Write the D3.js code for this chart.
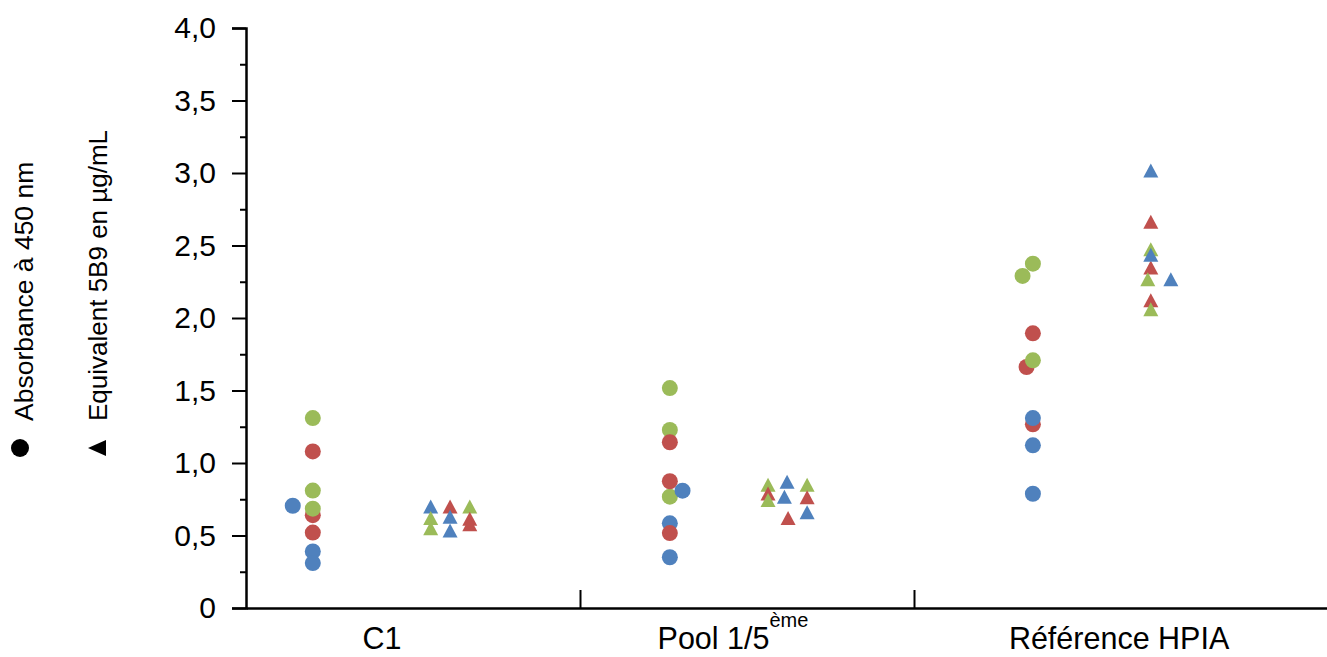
<!DOCTYPE html>
<html>
<head>
<meta charset="utf-8">
<script src="https://cdn.jsdelivr.net/npm/d3@7"></script>
<style>
  html, body { margin: 0; padding: 0; background: #ffffff; }
  svg { display: block; font-family: "Liberation Sans", Arial, sans-serif; }
</style>
</head>
<body>
<svg id="chart" width="1327" height="657"></svg>
<script>
// ---------------- DATA ----------------
const categories = ["C1", "Pool 1/5", "Référence HPIA"];
const categorySup = ["", "ème", ""];
const yTickValues = [0, 0.5, 1, 1.5, 2, 2.5, 3, 3.5, 4];
const yTickLabels = ["0", "0,5", "1,0", "1,5", "2,0", "2,5", "3,0", "3,5", "4,0"];
const legendLabels = ["Absorbance à 450 nm", "Equivalent 5B9 en µg/mL"];
const seriesColors = { blue: "#4F81BD", red: "#C0504D", green: "#9BBB59" };

// Absorbance à 450 nm (circles), in drawing order
const absSeries = ["blue","blue","blue","red","red","red","green","green","green",
                   "green","green","green","blue","blue","red","red","red","blue",
                   "red","red","red","green","green","green","blue","blue","blue"];
const absX = [0.14, 0.20, 0.20, 0.20, 0.20, 0.20, 0.20, 0.20, 0.20,
              1.269, 1.269, 1.269, 1.269, 1.269, 1.269, 1.269, 1.269, 1.307,
              2.356, 2.337, 2.356, 2.356, 2.325, 2.356, 2.356, 2.356, 2.356];
const absY = [0.705, 0.39, 0.31, 1.08, 0.64, 0.52, 1.31, 0.81, 0.685,
              1.517, 1.228, 0.768, 0.584, 0.35, 1.143, 0.874, 0.517, 0.809,
              1.894, 1.662, 1.267, 2.375, 2.29, 1.708, 1.31, 1.122, 0.788];

// Equivalent 5B9 en µg/mL (triangles), in drawing order
const eqSeries = ["blue","red","green","green","green","blue","blue","red","red",
                  "green","red","green","blue","blue","red","green","red","blue",
                  "blue","red","red","green","blue","green","blue","red","green"];
const eqX = [0.553, 0.611, 0.670, 0.553, 0.553, 0.611, 0.611, 0.670, 0.670,
             1.563, 1.563, 1.563, 1.620, 1.612, 1.623, 1.680, 1.680, 1.680,
             2.709, 2.709, 2.709, 2.709, 2.709, 2.700, 2.769, 2.709, 2.709];
const eqY = [0.70, 0.70, 0.70, 0.62, 0.55, 0.63, 0.535, 0.615, 0.577,
             0.85, 0.79, 0.744, 0.87, 0.767, 0.62, 0.85, 0.764, 0.661,
             3.018, 2.664, 2.348, 2.475, 2.436, 2.268, 2.268, 2.123, 2.061];

// ---------------- CHART ----------------
const svg = d3.select("#chart");
const plotLeft = 246, plotTop = 28, plotBottom = 608;

const y = d3.scaleLinear().domain([0, 4]).range([plotBottom, plotTop]);
const x = d3.scaleLinear().domain([0, 3.24]).range([plotLeft, plotLeft + 3.24 * 334]);

// minor ticks on y
const yMinor = d3.axisLeft(y).tickValues(d3.range(0.25, 4, 0.5)).tickSize(6).tickFormat("");
svg.append("g").attr("transform", `translate(${plotLeft},0)`).call(yMinor)
  .call(g => g.select(".domain").remove())
  .call(g => g.selectAll(".tick line").attr("stroke", "#000").attr("stroke-width", 2));

// major y axis
const yAxis = d3.axisLeft(y).tickValues(yTickValues).tickSize(14).tickPadding(16)
  .tickFormat((d, i) => yTickLabels[i]);
svg.append("g").attr("transform", `translate(${plotLeft},0)`).call(yAxis)
  .call(g => g.select(".domain").attr("stroke", "#000").attr("stroke-width", 2.5))
  .call(g => g.selectAll(".tick line").attr("stroke", "#000").attr("stroke-width", 2))
  .call(g => g.selectAll(".tick text").attr("fill", "#000").attr("font-size", 30)
    .attr("font-family", "'Liberation Sans', Arial, sans-serif"));

// x axis
const xAxis = d3.axisBottom(x).tickValues([1, 2]).tickSize(-18).tickFormat("").tickSizeOuter(0);
svg.append("g").attr("transform", `translate(0,${plotBottom})`).call(xAxis)
  .call(g => g.select(".domain").attr("stroke", "#000").attr("stroke-width", 2.5))
  .call(g => g.selectAll(".tick line").attr("stroke", "#000").attr("stroke-width", 2));

// category labels
const labelPos = [0.407, 1.458, 2.614];
categories.forEach((c, i) => {
  const t = svg.append("text")
    .attr("x", x(labelPos[i])).attr("y", 649)
    .attr("text-anchor", "middle").attr("font-size", 30.5).attr("fill", "#000");
  t.append("tspan").text(c);
  if (categorySup[i]) {
    t.append("tspan").attr("font-size", 20).attr("dy", -22).text(categorySup[i]);
  }
});

// circles
const absData = absX.map((v, i) => ({ x: v, y: absY[i], s: absSeries[i] }));
svg.append("g").selectAll("circle").data(absData).join("circle")
  .attr("cx", d => x(d.x)).attr("cy", d => y(d.y)).attr("r", 8)
  .attr("fill", d => seriesColors[d.s]);

// triangles (centered on bounding box)
const tw = 15, th = 14;
const triPath = `M0,${-th/2}L${tw/2},${th/2}L${-tw/2},${th/2}Z`;
const eqData = eqX.map((v, i) => ({ x: v, y: eqY[i], s: eqSeries[i] }));
svg.append("g").selectAll("path").data(eqData).join("path")
  .attr("d", triPath)
  .attr("transform", d => `translate(${x(d.x)},${y(d.y)})`)
  .attr("fill", d => seriesColors[d.s]);

// legend (rotated)
svg.append("circle").attr("cx", 20).attr("cy", 448).attr("r", 9).attr("fill", "#000");
svg.append("path").attr("d", "M88,448L106,440L106,456Z").attr("fill", "#000");
svg.append("text").attr("transform", "translate(33,421) rotate(-90)")
  .attr("font-size", 26.5).attr("fill", "#000").text(legendLabels[0]);
svg.append("text").attr("transform", "translate(107,421) rotate(-90)")
  .attr("font-size", 26).attr("fill", "#000").text(legendLabels[1]);
</script>
</body>
</html>
